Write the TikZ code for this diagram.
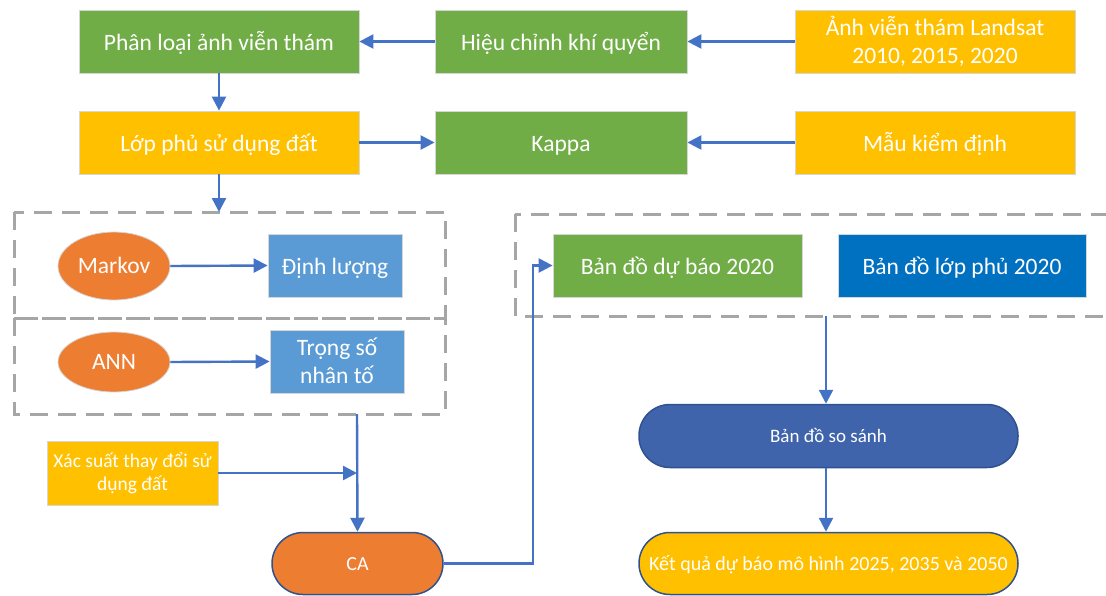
\documentclass[tikz,border=0pt]{standalone}
\usepackage{fontspec}
\setmainfont{Carlito}
\usetikzlibrary{arrows.meta,shapes.geometric}
\definecolor{cgreen}{HTML}{70AD47}
\definecolor{cyellow}{HTML}{FFC000}
\definecolor{corange}{HTML}{ED7D31}
\definecolor{clblue}{HTML}{5B9BD5}
\definecolor{cblue}{HTML}{0070C0}
\definecolor{cdblue}{HTML}{3F64AC}
\definecolor{arrowc}{HTML}{4472C4}
\definecolor{pillline}{HTML}{2F528F}
\definecolor{boxline}{HTML}{D6D6D6}
\definecolor{dashc}{HTML}{A6A6A6}
\newcommand\myStA{\rule[-5pt]{0pt}{28pt}}% single line, big
\newcommand\myStB{\rule[-5pt]{0pt}{25pt}}% two lines, big
\newcommand\myStC{\rule[-5pt]{0pt}{24pt}}% ellipse
\newcommand\myStD{\rule[-4pt]{0pt}{20pt}}% two lines, mid
\newcommand\myStE{\rule[-5pt]{0pt}{23pt}}% pills
\begin{document}
\begin{tikzpicture}[x=1pt,y=-1pt,
  bigfont/.style={font=\fontsize{23.5}{28}\selectfont},
  midfont/.style={font=\fontsize{19.5}{23}\selectfont},
  box/.style={draw=boxline, line width=0.8pt, inner sep=0pt, align=center, text=white},
  pill/.style={draw=pillline, line width=1.5pt, inner sep=0pt, align=center, text=white, rounded corners=31pt},
  oval/.style={ellipse, draw=boxline, line width=0.8pt, inner sep=0pt, align=center, text=white, fill=corange},
  arr/.style={draw=arrowc, line width=2.4pt, -{Triangle[length=14pt,width=14pt]}},
  dbox/.style={draw=dashc, line width=3pt, dash pattern=on 18pt off 10pt}]
\useasboundingbox (0,0) rectangle (1106,595);
\clip (0,0) rectangle (1106,595);
% dashed groups
\draw[dbox] (14,212) rectangle (445,318);
\draw[dbox] (14,318) rectangle (445,414);
\draw[dbox] (515,214) rectangle (1130,316);
% top rows
\node[box, bigfont, fill=cgreen, minimum width=280pt, minimum height=63pt] (phan) at (219,41.5) {\myStA Phân loại ảnh viễn thám};
\node[box, bigfont, fill=cgreen, minimum width=252pt, minimum height=63pt] (hieu) at (561,41.5) {\myStA Hiệu chỉnh khí quyển};
\node[box, bigfont, fill=cyellow, minimum width=280pt, minimum height=63pt] (anh) at (935,41.5) {\myStB Ảnh viễn thám Landsat\\\myStB 2010, 2015, 2020};
\node[box, bigfont, fill=cyellow, minimum width=280pt, minimum height=63pt] (lop) at (219,142.5) {\myStA Lớp phủ sử dụng đất};
\node[box, bigfont, fill=cgreen, minimum width=252pt, minimum height=63pt] (kappa) at (561,142.5) {\myStA Kappa};
\node[box, bigfont, fill=cyellow, minimum width=280pt, minimum height=63pt] (mau) at (935,142.5) {\myStA Mẫu kiểm định};
% left group
\node[oval, bigfont, minimum width=112pt, minimum height=68pt] (markov) at (114,266) {\myStC Markov};
\node[box, bigfont, fill=clblue, minimum width=134pt, minimum height=63pt] (dinh) at (335,265.5) {\myStA Định lượng};
\node[oval, bigfont, minimum width=112pt, minimum height=60pt] (ann) at (114,362) {\myStC ANN};
\node[box, bigfont, fill=clblue, minimum width=134pt, minimum height=63pt] (trong) at (337,361.5) {\myStB Trọng số\\\myStB nhân tố};
\node[box, midfont, fill=cyellow, minimum width=171pt, minimum height=64pt] (xac) at (132.5,473) {\myStD Xác suất thay đổi sử\\\myStD dụng đất};
\node[pill, font=\fontsize{20}{24}\selectfont, fill=corange, minimum width=171pt, minimum height=62pt] (ca) at (357.5,563.5) {\myStE CA};
% right group
\node[box, bigfont, fill=cgreen, minimum width=249pt, minimum height=63pt] (dubao) at (677.5,265.5) {\myStA Bản đồ dự báo 2020};
\node[box, bigfont, fill=cblue, minimum width=248pt, minimum height=63pt] (lp2020) at (962,265.5) {\myStA Bản đồ lớp phủ 2020};
\node[pill, font=\fontsize{19}{23}\selectfont, fill=cdblue, minimum width=379pt, minimum height=63pt] (sosanh) at (828.5,436) {\myStE Bản đồ so sánh};
\node[pill, font=\fontsize{20}{24}\selectfont, fill=cyellow, minimum width=379pt, minimum height=62pt] (ketqua) at (828.5,563.5) {\myStE Kết quả dự báo mô hình 2025, 2035 và 2050};
% coordinates
\coordinate (leftgtop) at (219,212);
\coordinate (leftgbot) at (357,414);
\coordinate (join) at (357,473);
\coordinate (rightgbot) at (826,316);
% arrows
\draw[arr] (anh.west) -- (hieu.east);
\draw[arr] (hieu.west) -- (phan.east);
\draw[arr] (phan.south) -- (lop.north);
\draw[arr] (lop.east) -- (kappa.west);
\draw[arr] (mau.west) -- (kappa.east);
\draw[arr] (lop.south) -- (leftgtop);
\draw[arr] (markov.east) -- (dinh.west);
\draw[arr] (ann.east) -- (trong.west);
\draw[arr] (leftgbot) -- (ca.north);
\draw[arr] (xac.east) -- (join);
\draw[arr] (ca.east) -- (533,563.5) |- (dubao.west);
\draw[arr] (rightgbot) -- (sosanh.north -| rightgbot);
\draw[arr] (sosanh.south -| rightgbot) -- (ketqua.north -| rightgbot);
\end{tikzpicture}
\end{document}
